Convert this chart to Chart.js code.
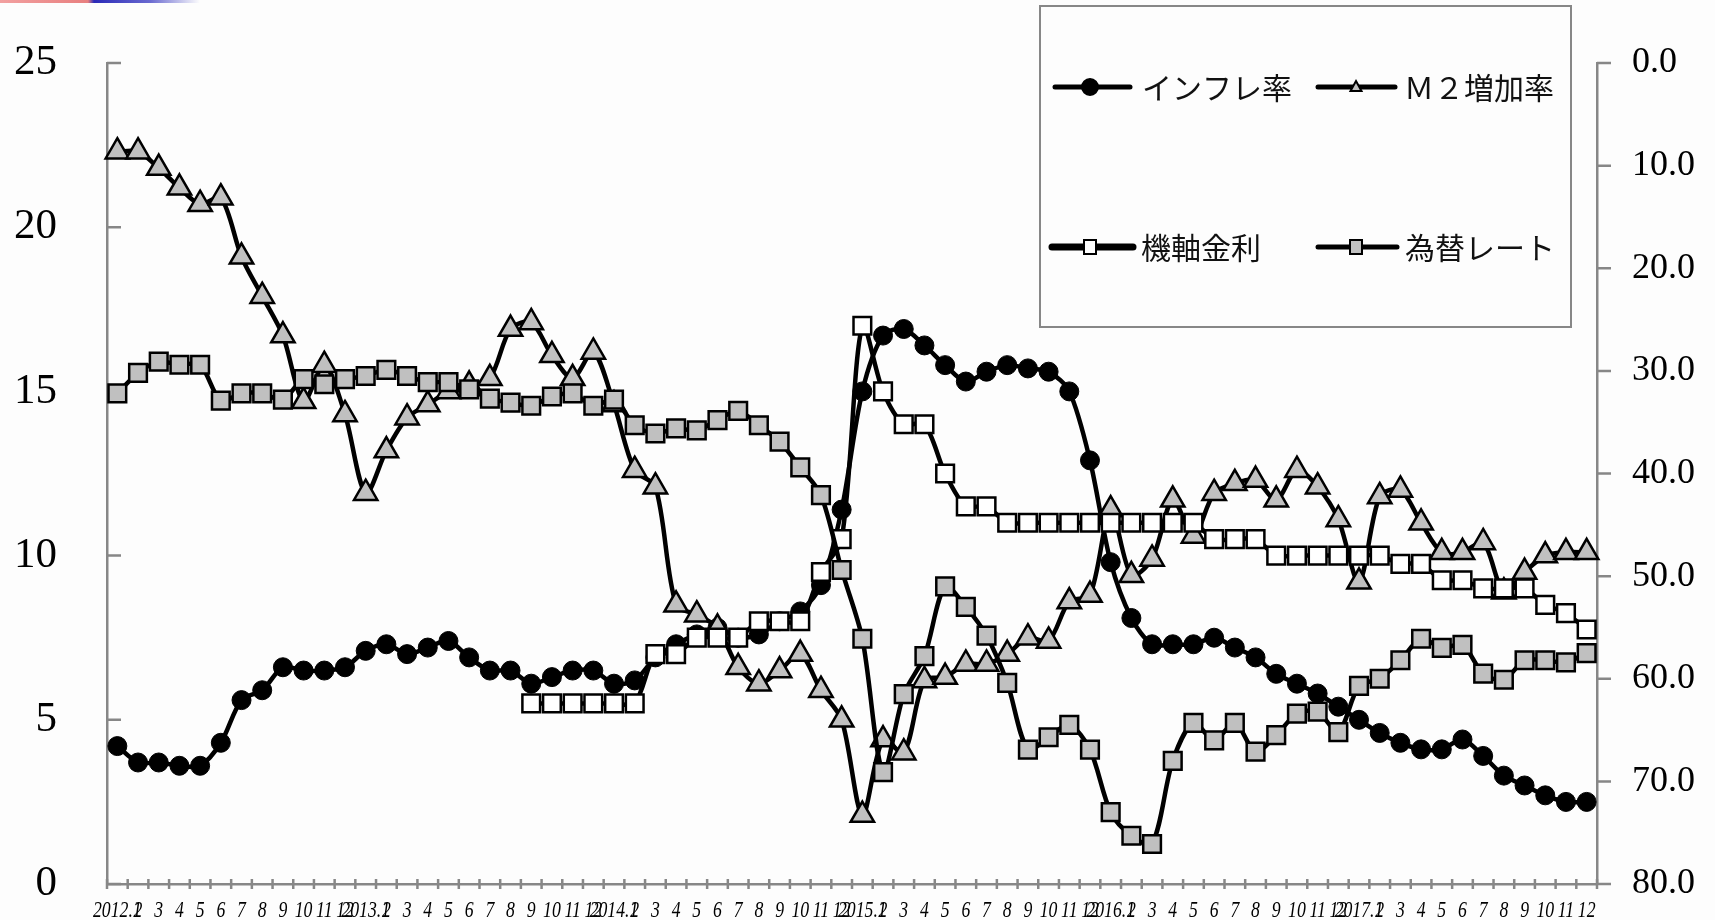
<!DOCTYPE html>
<html lang="ja">
<head>
<meta charset="utf-8">
<title>インフレ率・M２増加率・機軸金利・為替レート</title>
<script src="https://cdn.jsdelivr.net/npm/chart.js@4.4.1/dist/chart.umd.min.js"></script>
<style>
    html, body {
        margin: 0;
        padding: 0;
        background: #fdfdfd;
    }
    #wrap {
        position: relative;
        width: 1715px;
        height: 920px;
    }
    #strip {
        position: absolute;
        left: 0;
        top: 0;
        width: 200px;
        height: 3px;
        background: linear-gradient(to right, #f2a0a0 0%, #e88080 44%, #2a2ab8 47%, #6a6ad0 75%, #fdfdfd 100%);
    }
    canvas {
        display: block;
    }
</style>
</head>
<body>
<div id="wrap">
    <div id="strip"></div>
    <canvas id="chart" width="1715" height="920"></canvas>
</div>
<script>
// 月次ラベル（2012.1〜2017.12）
const labels = [
    '2012.1', '2', '3', '4', '5', '6', '7', '8', '9', '10', '11', '12',
    '2013.1', '2', '3', '4', '5', '6', '7', '8', '9', '10', '11', '12',
    '2014.1', '2', '3', '4', '5', '6', '7', '8', '9', '10', '11', '12',
    '2015.1', '2', '3', '4', '5', '6', '7', '8', '9', '10', '11', '12',
    '2016.1', '2', '3', '4', '5', '6', '7', '8', '9', '10', '11', '12',
    '2017.1', '2', '3', '4', '5', '6', '7', '8', '9', '10', '11', '12'
];

// インフレ率（%、左軸）
const inflation = [
    4.2, 3.7, 3.7, 3.6, 3.6, 4.3, 5.6, 5.9, 6.6, 6.5, 6.5, 6.6,
    7.1, 7.3, 7.0, 7.2, 7.4, 6.9, 6.5, 6.5, 6.1, 6.3, 6.5, 6.5,
    6.1, 6.2, 6.9, 7.3, 7.6, 7.8, 7.5, 7.6, 8.0, 8.3, 9.1, 11.4,
    15.0, 16.7, 16.9, 16.4, 15.8, 15.3, 15.6, 15.8, 15.7, 15.6, 15.0, 12.9,
    9.8, 8.1, 7.3, 7.3, 7.3, 7.5, 7.2, 6.9, 6.4, 6.1, 5.8, 5.4,
    5.0, 4.6, 4.3, 4.1, 4.1, 4.4, 3.9, 3.3, 3.0, 2.7, 2.5, 2.5
];

// M２増加率（%、左軸）
const m2Growth = [
    22.3, 22.3, 21.8, 21.2, 20.7, 20.9, 19.1, 17.9, 16.7, 14.7, 15.8, 14.3,
    11.9, 13.2, 14.2, 14.6, 15.0, 15.2, 15.4, 16.9, 17.1, 16.1, 15.4, 16.2,
    14.6, 12.6, 12.1, 8.5, 8.2, 7.8, 6.6, 6.1, 6.5, 7.0, 5.9, 5.0,
    2.1, 4.4, 4.0, 6.2, 6.3, 6.7, 6.7, 7.0, 7.5, 7.4, 8.6, 8.8,
    11.4, 9.4, 9.9, 11.7, 10.6, 11.9, 12.2, 12.3, 11.7, 12.6, 12.1, 11.1,
    9.2, 11.8, 12.0, 11.0, 10.1, 10.1, 10.4, 8.9, 9.5, 10.0, 10.1, 10.1
];

// 機軸金利（%、左軸）2013.9から
const keyRate = [
    null, null, null, null, null, null, null, null, null, null, null, null,
    null, null, null, null, null, null, null, null, 5.5, 5.5, 5.5, 5.5,
    5.5, 5.5, 7.0, 7.0, 7.5, 7.5, 7.5, 8.0, 8.0, 8.0, 9.5, 10.5,
    17.0, 15.0, 14.0, 14.0, 12.5, 11.5, 11.5, 11.0, 11.0, 11.0, 11.0, 11.0,
    11.0, 11.0, 11.0, 11.0, 11.0, 10.5, 10.5, 10.5, 10.0, 10.0, 10.0, 10.0,
    10.0, 10.0, 9.75, 9.75, 9.25, 9.25, 9.0, 9.0, 9.0, 8.5, 8.25, 7.75
];

// 為替レート（右軸、上下反転）
const exchangeRate = [
    32.2, 30.2, 29.1, 29.4, 29.4, 32.9, 32.2, 32.2, 32.8, 30.8, 31.3, 30.8,
    30.5, 29.9, 30.5, 31.1, 31.1, 31.8, 32.7, 33.1, 33.4, 32.5, 32.2, 33.4,
    32.8, 35.3, 36.1, 35.6, 35.8, 34.8, 33.9, 35.3, 36.9, 39.4, 42.1, 49.4,
    56.1, 69.1, 61.5, 57.8, 51.0, 53.0, 55.8, 60.4, 66.9, 65.7, 64.5, 66.9,
    73.0, 75.3, 76.1, 68.0, 64.3, 66.0, 64.3, 67.1, 65.5, 63.4, 63.2, 65.2,
    60.7, 60.0, 58.2, 56.1, 57.0, 56.7, 59.5, 60.1, 58.2, 58.2, 58.4, 57.5
];

const AXIS_GRAY = '#878787';
const MARK_GRAY = '#c0c0c0';

// 凡例の並び（2列×2行）
const legendItems = [
    {text: 'インフレ率', style: 'circle', fill: '#000', lineFrom: 1055, lineTo: 1130, x: 1090, y: 87, textX: 1142, lw: 5},
    {text: 'Ｍ２増加率', style: 'triangle', fill: MARK_GRAY, lineFrom: 1318, lineTo: 1395, x: 1356, y: 87, textX: 1404, lw: 5},
    {text: '機軸金利', style: 'rect', fill: '#fff', lineFrom: 1052, lineTo: 1133, x: 1090, y: 247, textX: 1141, lw: 7},
    {text: '為替レート', style: 'rect', fill: MARK_GRAY, lineFrom: 1318, lineTo: 1397, x: 1356, y: 247, textX: 1405, lw: 5}
];

// 縦軸のラベル分の余白を詰める
function dropVerticalPadding(scale) {
    scale.paddingTop = 0;
    scale.paddingBottom = 0;
}

// 軸の目盛り線（左は内向き、右は外向き、横軸は十字）と横軸ラベル
const axisTicks = {
    id: 'axisTicks',
    beforeDatasetsDraw(chart) {
        const {ctx, chartArea: area, scales} = chart;
        ctx.save();
        ctx.strokeStyle = AXIS_GRAY;
        ctx.lineWidth = 2.5;
        ctx.beginPath();
        scales.y.ticks.forEach(t => {
            const y = scales.y.getPixelForValue(t.value);
            ctx.moveTo(area.left, y);
            ctx.lineTo(area.left + 14, y);
        });
        scales.y2.ticks.forEach(t => {
            const y = scales.y2.getPixelForValue(t.value);
            ctx.moveTo(area.right, y);
            ctx.lineTo(area.right + 14, y);
        });
        for (let i = 0; i <= labels.length; i++) {
            const x = scales.x.getPixelForValue(i - 0.5);
            ctx.moveTo(x, area.bottom - 5);
            ctx.lineTo(x, area.bottom + 5);
        }
        ctx.stroke();

        // 幅を詰めた斜体の月ラベル
        ctx.fillStyle = '#000';
        ctx.font = 'italic 23px "Liberation Serif"';
        ctx.textAlign = 'center';
        ctx.textBaseline = 'middle';
        labels.forEach((label, i) => {
            ctx.save();
            ctx.translate(scales.x.getPixelForValue(i), area.bottom + 27);
            ctx.scale(0.77, 1);
            ctx.fillText(label, 0, 0);
            ctx.restore();
        });
        ctx.restore();
    }
};

// 枠付きの凡例
const boxLegend = {
    id: 'boxLegend',
    afterDraw(chart) {
        const ctx = chart.ctx;
        ctx.save();
        ctx.fillStyle = '#fdfdfd';
        ctx.fillRect(1040, 6, 531, 321);
        ctx.strokeStyle = AXIS_GRAY;
        ctx.lineWidth = 2;
        ctx.strokeRect(1040, 6, 531, 321);

        legendItems.forEach(item => {
            ctx.strokeStyle = '#000';
            ctx.lineWidth = item.lw;
            ctx.lineCap = 'round';
            ctx.beginPath();
            ctx.moveTo(item.lineFrom, item.y);
            ctx.lineTo(item.lineTo, item.y);
            ctx.stroke();

            ctx.fillStyle = item.fill;
            ctx.lineWidth = 2;
            ctx.beginPath();
            if (item.style === 'circle') {
                ctx.arc(item.x, item.y, 8, 0, Math.PI * 2);
            } else if (item.style === 'triangle') {
                ctx.moveTo(item.x, item.y - 6);
                ctx.lineTo(item.x + 5.5, item.y + 4);
                ctx.lineTo(item.x - 5.5, item.y + 4);
                ctx.closePath();
            } else {
                ctx.rect(item.x - 6, item.y - 7, 12, 14);
            }
            ctx.fill();
            ctx.stroke();

            ctx.fillStyle = '#111';
            ctx.font = '30px "Noto Sans CJK JP"';
            ctx.textAlign = 'left';
            ctx.textBaseline = 'middle';
            ctx.fillText(item.text, item.textX, item.y + 1);
        });
        ctx.restore();
    }
};

const ctx = document.getElementById('chart').getContext('2d');
new Chart(ctx, {
    type: 'line',
    data: {
        labels: labels,
        datasets: [
            {
                label: 'インフレ率',
                data: inflation,
                yAxisID: 'y',
                order: 4,
                borderColor: '#000',
                borderWidth: 4.5,
                pointStyle: 'circle',
                pointRadius: 9.5,
                pointBackgroundColor: '#000',
                pointBorderColor: '#000',
                pointBorderWidth: 1
            },
            {
                label: 'Ｍ２増加率',
                data: m2Growth,
                yAxisID: 'y',
                order: 3,
                borderColor: '#000',
                borderWidth: 4.5,
                pointStyle: 'triangle',
                pointRadius: 13.5,
                pointBackgroundColor: MARK_GRAY,
                pointBorderColor: '#000',
                pointBorderWidth: 2.5
            },
            {
                label: '機軸金利',
                data: keyRate,
                yAxisID: 'y',
                order: 2,
                borderColor: '#000',
                borderWidth: 4.5,
                pointStyle: 'rect',
                pointRadius: 12.5,
                pointBackgroundColor: '#fff',
                pointBorderColor: '#000',
                pointBorderWidth: 2.5
            },
            {
                label: '為替レート',
                data: exchangeRate,
                yAxisID: 'y2',
                order: 1,
                borderColor: '#000',
                borderWidth: 4.5,
                pointStyle: 'rect',
                pointRadius: 12.5,
                pointBackgroundColor: MARK_GRAY,
                pointBorderColor: '#000',
                pointBorderWidth: 2.5
            }
        ]
    },
    options: {
        responsive: false,
        animation: false,
        events: [],
        clip: false,
        elements: {
            line: {tension: 0.3, capBezierPoints: true}
        },
        layout: {
            padding: {top: 63, left: 0, right: 0, bottom: 0}
        },
        plugins: {
            legend: {display: false},
            tooltip: {enabled: false}
        },
        scales: {
            x: {
                offset: true,
                grid: {drawOnChartArea: false, drawTicks: false},
                border: {display: true, color: AXIS_GRAY, width: 2.5},
                ticks: {display: false, autoSkip: false},
                afterFit(scale) {
                    scale.height = 36;
                    scale.paddingLeft = 0;
                    scale.paddingRight = 0;
                }
            },
            y: {
                position: 'left',
                min: 0,
                max: 25,
                ticks: {
                    stepSize: 5,
                    padding: 50,
                    color: '#000',
                    font: {family: '"Liberation Serif"', size: 43}
                },
                grid: {drawOnChartArea: false, drawTicks: false},
                border: {display: true, color: AXIS_GRAY, width: 2.5},
                afterFit(scale) {
                    scale.width = 107;
                    dropVerticalPadding(scale);
                }
            },
            y2: {
                position: 'right',
                min: 0,
                max: 80,
                reverse: true,
                ticks: {
                    stepSize: 10,
                    padding: 35,
                    color: '#000',
                    font: {family: '"Liberation Serif"', size: 36},
                    callback: value => value.toFixed(1)
                },
                grid: {drawOnChartArea: false, drawTicks: false},
                border: {display: true, color: AXIS_GRAY, width: 2.5},
                afterFit(scale) {
                    scale.width = 118;
                    dropVerticalPadding(scale);
                }
            }
        }
    },
    plugins: [axisTicks, boxLegend]
});
</script>
</body>
</html>
